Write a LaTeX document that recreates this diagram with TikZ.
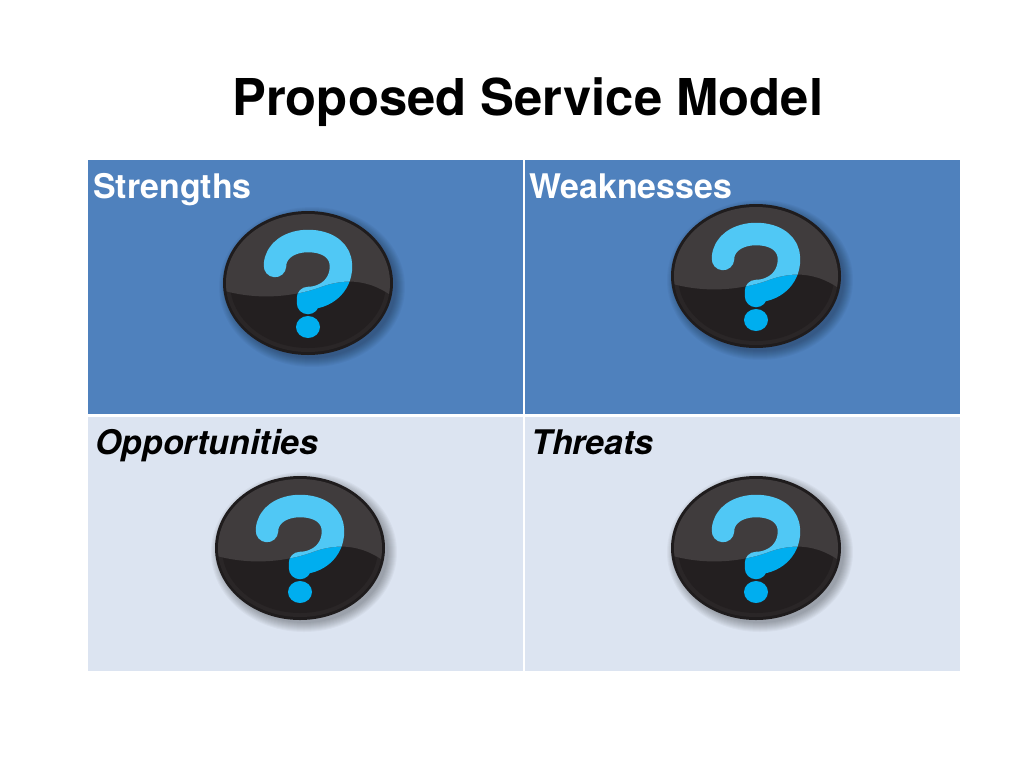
\documentclass[tikz,border=0pt]{standalone}
\usepackage{fontspec}
\setmainfont{TeX Gyre Heros}
\definecolor{headblue}{HTML}{4F81BD}
\definecolor{paleblue}{HTML}{DCE4F1}
\definecolor{rimdark}{HTML}{1F1C1D}
\definecolor{rimgrey}{HTML}{2A2627}
\definecolor{facedark}{HTML}{231F20}
\definecolor{faceglos}{HTML}{403C3D}
\definecolor{markdark}{HTML}{00AEEF}
\definecolor{marklite}{HTML}{50C8F5}
\tikzset{
  celltext/.style={anchor=base west,inner sep=0pt,font=\fontsize{19.3}{21}\selectfont\bfseries},
  qstroke/.style={line width=12.8pt,line cap=round,line join=round}
}
% one round button with its question mark
\newcommand{\qmark}[1]{
\draw [#1,qstroke] (-33,-17) .. controls (-33,-33) and (-17,-42) .. (0,-42) .. controls (20,-42) and (33,-32) .. (33,-17) .. controls (33,4) and (16,15) .. (0,15) -- (0,20);
\fill [#1] (0,44) ellipse (12 and 11);
}
\newcommand{\qbadge}[2]{
\begin{scope}[shift={(#1,#2)}]
\foreach \r in {0,1,...,9}
  \fill [black,opacity=0.03] (4,-4) ellipse ({84+\r} and {71+\r});
\fill [rimdark] (0,0) ellipse (85 and 72);
\fill [rimgrey] (0,-1) ellipse (82 and 68);
\fill [facedark] (0,0) ellipse (78 and 65);
\begin{scope}[yscale=-1]
\qmark{markdark}
\clip (0,0) ellipse (82 and 69);
\clip (-90,6) .. controls (-55,17) and (-20,15) .. (10,5) .. controls (30,-3) and (60,-8) .. (90,18) -- (90,-80) -- (-90,-80) -- cycle;
\fill [faceglos] (-90,-80) rectangle (90,30);
\qmark{marklite}
\end{scope}
\end{scope}
}
\begin{document}
\begin{tikzpicture}[x=0.02cm,y=0.02cm]
\useasboundingbox (0,0) rectangle (1024,-768);
\fill [white] (0,0) rectangle (1024,-768);
\fill [headblue] (88,-160) rectangle (960,-415);
\fill [paleblue] (88,-415) rectangle (960,-671);
\draw [white,line width=1.6pt] (88,-415.5) -- (960,-415.5);
\draw [white,line width=1pt] (524,-160) -- (524,-671);
\draw (232,-115) node [anchor=base west,inner sep=0pt,font=\fontsize{28.9}{32}\selectfont\bfseries] (title) {Proposed Service Model};
\draw (93,-198) node [celltext,white] (strengths) {Strengths};
\draw (529,-198) node [celltext,white] (weaknesses) {Weaknesses};
\draw (95,-454) node [celltext,font=\fontsize{19.3}{21}\selectfont\bfseries\itshape] (opportunities) {Opportunities};
\draw (531,-454) node [celltext,font=\fontsize{19.3}{21}\selectfont\bfseries\itshape] (threats) {Threats};
\qbadge{308}{-283}
\qbadge{756}{-276}
\qbadge{300}{-548}
\qbadge{756}{-548}
\end{tikzpicture}
\end{document}
